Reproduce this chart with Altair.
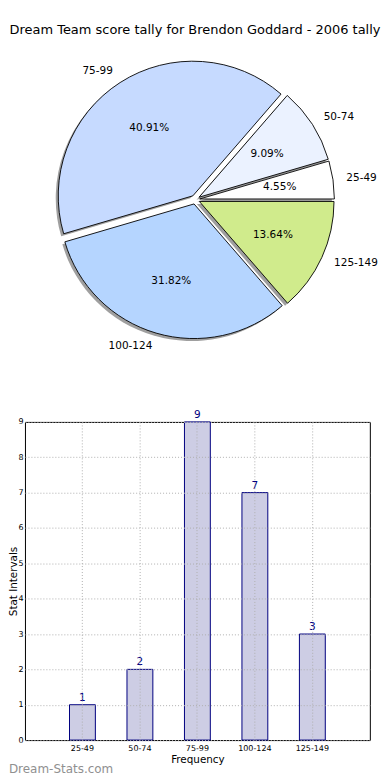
import math
import altair as alt
import pandas as pd

# ---- data ----
categories = ["25-49", "50-74", "75-99", "100-124", "125-149"]
counts = [1, 2, 9, 7, 3]
pie_colors = ["#ffffff", "#ebf2ff", "#c6daff", "#b5d5ff", "#d0eb8c"]
y_ticks = [0, 1, 2, 3, 4, 5, 6, 7, 8, 9]

title_text = "Dream Team score tally for Brendon Goddard - 2006 tally"
x_title = "Frequency"
y_title = "Stat Intervals"
credit = "Dream-Stats.com"

df = pd.DataFrame({"cat": categories, "count": counts, "idx": list(range(len(categories)))})

# ---- layout (pixels) ----
VIEW_LEFT = 24.5      # page x of the plot areas' left edge
PIE_TOP = 45.0        # page y of the pie panel's top
BAR_TOP = 421.0
SPACING = 10
PIE_W = 2 * (195.0 - VIEW_LEFT)
PIE_H = BAR_TOP - PIE_TOP - SPACING
BAR_W = 370.3 - VIEW_LEFT
BAR_H = 319

CX = 195.3 - VIEW_LEFT
CY = 198.1 - PIE_TOP
R = 135.0
EXPLODE = 4.5
SHADOW = 2.5
PCT_R = 0.6 * R
LAB_R = 1.1 * R
FONT = "DejaVu Sans"

theta_scale = alt.Scale(domain=[0, 1], range=[math.pi / 2, math.pi / 2 - 2 * math.pi])

base = (
    alt.Chart(df)
    .transform_joinaggregate(total="sum(count)")
    .transform_window(cum="sum(count)", sort=[alt.SortField("idx", order="ascending")])
    .transform_calculate(
        f0="(datum.cum - datum.count) / datum.total",
        f1="datum.cum / datum.total",
        ang="2 * PI * (datum.cum - datum.count / 2) / datum.total",
        pct="format(100 * datum.count / datum.total, '.2f') + '%'",
    )
    .transform_calculate(ux="cos(datum.ang)", uy="-sin(datum.ang)")
    .transform_calculate(
        ax=f"{CX} + {EXPLODE} * datum.ux",
        ay=f"{CY} + {EXPLODE} * datum.uy",
        sx=f"{CX - SHADOW} + {EXPLODE} * datum.ux",
        sy=f"{CY + SHADOW} + {EXPLODE} * datum.uy",
        px=f"{CX} + {EXPLODE + PCT_R} * datum.ux",
        py=f"{CY} + {EXPLODE + PCT_R} * datum.uy",
        lx=f"{CX} + {EXPLODE + LAB_R} * datum.ux",
        ly=f"{CY} + {EXPLODE + LAB_R} * datum.uy",
    )
)

def pos(xf, yf):
    return dict(
        x=alt.X(f"{xf}:Q", scale=None, axis=None),
        y=alt.Y(f"{yf}:Q", scale=None, axis=None),
    )

shadow = base.mark_arc(radius=R, fill="#404040", fillOpacity=0.5).encode(
    theta=alt.Theta("f0:Q", scale=theta_scale), theta2="f1", **pos("sx", "sy")
)
wedges = base.mark_arc(radius=R, stroke="black", strokeWidth=0.9).encode(
    theta=alt.Theta("f0:Q", scale=theta_scale),
    theta2="f1",
    fill=alt.Fill("cat:N", scale=alt.Scale(domain=categories, range=pie_colors), legend=None),
    **pos("ax", "ay"),
)
pct_text = base.mark_text(font=FONT, fontSize=10.5, align="center", baseline="middle", color="black").encode(
    text="pct:N", **pos("px", "py")
)
lab_right = base.transform_filter("datum.ux > 0").mark_text(
    font=FONT, fontSize=10.5, align="left", baseline="middle", color="black"
).encode(text="cat:N", **pos("lx", "ly"))
lab_left = base.transform_filter("datum.ux <= 0").mark_text(
    font=FONT, fontSize=10.5, align="right", baseline="middle", color="black"
).encode(text="cat:N", **pos("lx", "ly"))

pie = alt.layer(shadow, wedges, pct_text, lab_right, lab_left).properties(
    width=PIE_W,
    height=PIE_H,
    title=alt.TitleParams(
        title_text, font=FONT, fontSize=13, fontWeight="normal", color="black",
        anchor="middle", frame="group", offset=10,
    ),
)

# ---- bar chart ----
grid_color = "#b0b0b0"
x_enc = alt.X(
    "cat:N",
    sort=categories,
    scale=alt.Scale(paddingInner=0, paddingOuter=0.5),
    title=x_title,
    axis=alt.Axis(
        labelAngle=0, grid=True, gridDash=[1, 2], gridColor=grid_color, bandPosition=0.5,
        ticks=False, domain=False, labelFont=FONT, labelFontSize=8, labelColor="black",
        labelPadding=4, titleFont=FONT, titleFontSize=10.4, titleFontWeight="normal",
        titleColor="black", titlePadding=2, zindex=1,
    ),
)
y_enc = alt.Y(
    "count:Q",
    scale=alt.Scale(domain=[y_ticks[0], y_ticks[-1]], nice=False),
    title=y_title,
    axis=alt.Axis(
        values=y_ticks, grid=True, gridDash=[1, 2], gridColor=grid_color, ticks=False,
        domain=False, labelFont=FONT, labelFontSize=8, labelColor="black", labelPadding=2,
        titleFont=FONT, titleFontSize=10.4, titleFontWeight="normal", titleColor="black",
        titlePadding=-1, zindex=1,
    ),
)

bars = alt.Chart(df).mark_bar(
    fill="#cdcde4", stroke="#000080", strokeWidth=1, width=alt.RelativeBandSize(0.45)
).encode(x=x_enc, y=y_enc)
bar_text = alt.Chart(df).mark_text(
    font=FONT, fontSize=10.5, color="#000080", baseline="alphabetic", dy=-4
).encode(x=x_enc, y=y_enc, text="count:Q")

bar = alt.layer(bars, bar_text).properties(
    width=BAR_W,
    height=BAR_H,
    view=alt.ViewBackground(stroke="black", strokeWidth=1),
    title=alt.TitleParams(
        credit, orient="bottom", anchor="start", frame="bounds", font=FONT, fontSize=12,
        fontWeight="normal", color="#909090", offset=0,
    ),
)

chart = (
    alt.vconcat(pie, bar, spacing=SPACING, bounds="flush")
    .properties(padding={"left": 0, "top": 14, "right": 0, "bottom": 0})
    .configure_view(stroke="transparent")
)

chart.save("out.html", embed_options={"renderer": "svg", "actions": False})
